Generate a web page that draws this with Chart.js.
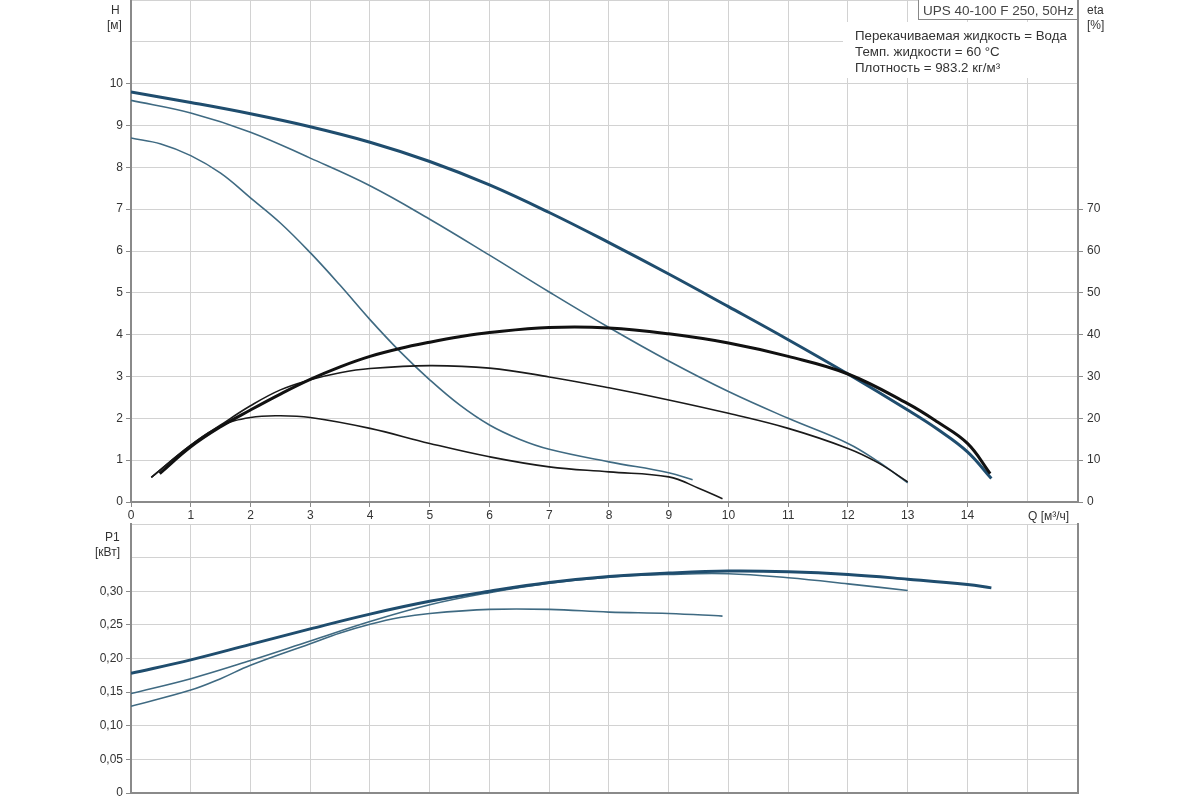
<!DOCTYPE html>
<html>
<head>
<meta charset="utf-8">
<script src="https://cdn.jsdelivr.net/npm/chart.js@4.4.1/dist/chart.umd.min.js"></script>
<style>
  body { margin: 0; background: #fff; width: 1200px; height: 800px; position: relative; overflow: hidden;
         font-family: "Liberation Sans", Arial, sans-serif; color: #333; }
  #cTop { position: absolute; left: 0; top: 0; }
  #cBot { position: absolute; left: 0; top: 515px; }
  .lbl { position: absolute; font-size: 12px; line-height: 14px; white-space: nowrap; color: #333; }
  #model { position: absolute; left: 918px; top: -1px; width: 160px; height: 21px; border: 1px solid #888;
           background: #fff; font-size: 13.5px; line-height: 21px; padding-left: 4px; box-sizing: border-box;
           white-space: nowrap; color: #444; }
  #info { position: absolute; left: 843px; top: 22px; width: 234px; height: 56px; background: #fff;
          font-size: 13.3px; line-height: 16px; padding: 6px 0 0 12px; box-sizing: border-box;
          white-space: nowrap; color: #333; }
</style>
</head>
<body>
<canvas id="cTop" width="1200" height="530"></canvas>
<canvas id="cBot" width="1200" height="285"></canvas>

<div class="lbl" style="left:111px;top:3px;">H</div>
<div class="lbl" style="left:107px;top:18px;">[м]</div>
<div class="lbl" style="left:1087px;top:3px;">eta</div>
<div class="lbl" style="left:1087px;top:18px;">[%]</div>
<div id="model">UPS 40-100 F 250, 50Hz</div>
<div id="info">Перекачиваемая жидкость = Вода<br>Темп. жидкости = 60 °C<br>Плотность = 983.2 кг/м³</div>
<div class="lbl" style="left:1028px;top:509px;">Q [м³/ч]</div>
<div class="lbl" style="left:105px;top:530px;">P1</div>
<div class="lbl" style="left:95px;top:545px;">[кВт]</div>

<script>
// --- Данные ---

// Напорные характеристики H [м] по Q [м³/ч]
const hMaxQ = [0, 1, 2, 3, 4, 5, 6, 7, 8, 9, 10, 11, 12, 13, 13.5, 14, 14.4];
const hMaxV = [9.8, 9.55, 9.28, 8.97, 8.6, 8.14, 7.58, 6.92, 6.2, 5.45, 4.67, 3.88, 3.06, 2.2, 1.74, 1.2, 0.56];

const hMidQ = [0, 1, 2, 3, 4, 5, 6, 7, 8, 9, 10, 11, 12, 12.5, 13];
const hMidV = [9.6, 9.3, 8.84, 8.22, 7.56, 6.76, 5.9, 5.02, 4.17, 3.37, 2.64, 2.0, 1.4, 0.97, 0.46];

const hMinQ = [0, 0.5, 1, 1.5, 2, 2.5, 3, 3.5, 4, 4.5, 5, 5.5, 6, 6.5, 7, 8, 9, 9.4];
const hMinV = [8.7, 8.56, 8.28, 7.86, 7.27, 6.67, 5.96, 5.18, 4.36, 3.6, 2.92, 2.32, 1.84, 1.5, 1.26, 0.96, 0.7, 0.53];

// КПД eta [%]
const etaMaxQ = [0.48, 1, 1.5, 2, 2.5, 3, 3.5, 4, 4.5, 5, 5.5, 6, 7, 8, 9, 10, 11, 12, 13, 13.5, 14, 14.38];
const etaMaxV = [6.8, 13.2, 18, 22, 25.8, 29.3, 32.3, 34.8, 36.7, 38.2, 39.5, 40.5, 41.7, 41.6, 40.2, 38, 34.8, 30.6, 23.5, 19.1, 14, 6.8];

const etaMidQ = [0.34, 1, 1.5, 2, 2.5, 3, 3.5, 4, 5, 6, 7, 8, 9, 10, 11, 12, 12.5, 13];
const etaMidV = [5.9, 13.6, 18.4, 23.0, 26.8, 29.2, 30.9, 31.9, 32.6, 32.0, 29.9, 27.3, 24.4, 21.2, 17.6, 12.8, 9.4, 4.8];

const etaMinQ = [0.34, 1, 1.5, 2, 2.5, 3, 4, 5, 6, 7, 8, 9, 9.5, 9.9];
const etaMinV = [5.9, 13.6, 18.2, 20.2, 20.6, 20.2, 17.6, 14, 10.8, 8.4, 7.2, 6.0, 3.3, 0.8];

// Потребляемая мощность P1 [кВт]
const pMaxQ = [0, 1, 2, 3, 4, 5, 6, 7, 8, 9, 10, 11, 12, 13, 14, 14.4];
const pMaxV = [0.178, 0.198, 0.221, 0.244, 0.266, 0.285, 0.300, 0.313, 0.322, 0.327, 0.330, 0.329, 0.325, 0.318, 0.310, 0.305];

const pMidQ = [0, 1, 2, 3, 4, 5, 6, 7, 8, 9, 10, 11, 12, 13];
const pMidV = [0.148, 0.170, 0.197, 0.226, 0.255, 0.280, 0.298, 0.312, 0.321, 0.325, 0.326, 0.320, 0.311, 0.301];

const pMinQ = [0, 1, 1.5, 2, 3, 3.5, 4, 4.5, 5, 6, 7, 8, 9, 9.9];
const pMinV = [0.129, 0.153, 0.170, 0.190, 0.222, 0.238, 0.251, 0.261, 0.267, 0.273, 0.273, 0.269, 0.267, 0.263];

// Подписи осей
const qMax = 15.85;
const qLabelMax = 14;
const hLabelMax = 10;
const etaLabelMax = 70;
const pLabelMax = 0.30;

// --- Вспомогательные функции ---
const pts = (q, v) => q.map((x, i) => ({ x: x, y: v[i] }));

function line(q, v, color, width, axis) {
    return {
        data: pts(q, v),
        borderColor: color,
        borderWidth: width,
        pointRadius: 0,
        tension: 0.4,
        yAxisID: axis,
        fill: false
    };
}

// Фиксированные размеры осей, чтобы оба графика совпадали
function fixW(w) {
    return function (s) { s.width = w; s.paddingTop = 0; s.paddingBottom = 0; };
}
function fixH(h) {
    return function (s) { s.height = h; s.paddingLeft = 0; s.paddingRight = 0; };
}
// Засечки только там, где есть подпись
const tickCol = (limit) => (ctx) => (ctx.tick && ctx.tick.value > limit + 0.001) ? 'rgba(0,0,0,0)' : axisColor;

Chart.defaults.font.family = '"Liberation Sans", Arial, sans-serif';
Chart.defaults.font.size = 12;
Chart.defaults.color = '#333';

const gridColor = '#d2d2d2';
const axisColor = '#8a8a8a';
const blueThick = '#1f4d6e';
const blueThin = '#3f6a82';

// ==========================================
//  Верхний график: H и eta
// ==========================================
new Chart(document.getElementById('cTop').getContext('2d'), {
    type: 'line',
    data: {
        datasets: [
            line(etaMaxQ, etaMaxV, '#111', 3, 'yEta'),
            line(etaMidQ, etaMidV, '#1a1a1a', 1.6, 'yEta'),
            line(etaMinQ, etaMinV, '#1a1a1a', 1.6, 'yEta'),
            line(hMaxQ, hMaxV, blueThick, 3, 'y'),
            line(hMidQ, hMidV, blueThin, 1.6, 'y'),
            line(hMinQ, hMinV, blueThin, 1.6, 'y')
        ]
    },
    options: {
        responsive: false,
        animation: false,
        layout: { padding: 0 },
        plugins: { legend: { display: false }, tooltip: { enabled: false } },
        scales: {
            x: {
                type: 'linear',
                min: 0, max: qMax,
                afterFit: fixH(28),
                grid: { color: gridColor, tickColor: tickCol(qLabelMax), tickLength: 5 },
                border: { color: axisColor, width: 2 },
                ticks: {
                    stepSize: 1, includeBounds: false, maxRotation: 0, padding: 1,
                    callback: v => v <= qLabelMax ? v : ''
                }
            },
            y: {
                min: 0, max: 12,
                afterFit: fixW(131),
                grid: { color: gridColor, tickColor: tickCol(hLabelMax), tickLength: 5 },
                border: { color: axisColor, width: 2 },
                ticks: { stepSize: 1, padding: 3, callback: v => v <= hLabelMax ? v : '' }
            },
            yEta: {
                position: 'right',
                min: 0, max: 120,
                afterFit: fixW(122),
                grid: { drawOnChartArea: false, tickColor: tickCol(etaLabelMax), tickLength: 5 },
                border: { color: axisColor, width: 2 },
                ticks: { stepSize: 10, padding: 4, callback: v => v <= etaLabelMax ? v : '' }
            }
        }
    }
});

// ==========================================
//  Нижний график: P1
// ==========================================
new Chart(document.getElementById('cBot').getContext('2d'), {
    type: 'line',
    data: {
        datasets: [
            line(pMaxQ, pMaxV, blueThick, 3, 'y'),
            line(pMidQ, pMidV, blueThin, 1.6, 'y'),
            line(pMinQ, pMinV, blueThin, 1.6, 'y')
        ]
    },
    options: {
        responsive: false,
        animation: false,
        layout: { padding: { top: 9 } },
        plugins: { legend: { display: false }, tooltip: { enabled: false } },
        scales: {
            x: {
                type: 'linear',
                min: 0, max: qMax,
                afterFit: fixH(7),
                grid: { color: gridColor, drawTicks: false },
                border: { color: axisColor, width: 2 },
                ticks: { display: false, stepSize: 1, includeBounds: false }
            },
            y: {
                min: 0, max: 0.4,
                afterFit: fixW(131),
                grid: { color: gridColor, tickColor: tickCol(pLabelMax), tickLength: 5 },
                border: { color: axisColor, width: 2 },
                ticks: {
                    stepSize: 0.05, padding: 3,
                    callback: v => {
                        const r = Math.round(v * 100) / 100;
                        if (r > pLabelMax + 0.001) return '';
                        return r === 0 ? '0' : r.toFixed(2).replace('.', ',');
                    }
                }
            },
            yR: {
                display: true,
                position: 'right',
                min: 0, max: 1,
                afterFit: fixW(122),
                grid: { drawOnChartArea: false, drawTicks: false },
                border: { color: axisColor, width: 2 },
                ticks: { display: false }
            }
        }
    }
});
</script>
</body>
</html>
